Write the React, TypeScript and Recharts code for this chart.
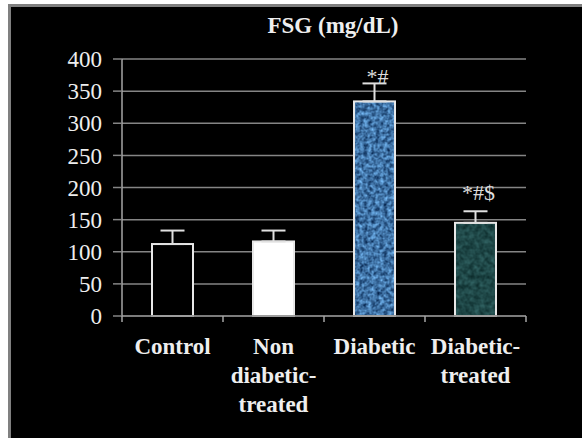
import React from "react";
import { BarChart, Bar, XAxis, YAxis, CartesianGrid, ErrorBar, LabelList } from "recharts";

const categories = ["Control", "Non diabetic-treated", "Diabetic", "Diabetic-treated"];
const categoryLines = [["Control"], ["Non", "diabetic-", "treated"], ["Diabetic"], ["Diabetic-", "treated"]];
const meanValues = [112, 116, 334, 145];
const errorValues = [21, 17, 28, 18];
const significance = ["", "", "*#", "*#$"];
const significanceLevel = [0, 0, 361, 181];
const yTicks = [0, 50, 100, 150, 200, 250, 300, 350, 400];
const title = "FSG (mg/dL)";

const W = 582;
const H = 438;
const margin = { top: 59, right: 56, left: 62, bottom: 12 };
const Y_W = 60;
const plotW = W - margin.left - Y_W - margin.right;
const half = plotW / categories.length / 2;

const data = categories.map((name, i) => ({
  name,
  idx: i,
  value: meanValues[i],
  err: [0, errorValues[i]],
  sig: significance[i],
  sigLevel: significanceLevel[i],
}));

const FONT = "Liberation Serif, Times New Roman, Tinos, DejaVu Serif, serif";
const TXT = "#eeeeee";
const GRID = "#858585";

const BarShape = (props: any) => {
  const { x, y, width, height, payload } = props;
  const idx = payload.idx;
  let fill: any = "#000000";
  let filter: string | undefined;
  if (idx === 1) fill = "#ffffff";
  if (idx === 2) filter = "url(#texBlue)";
  if (idx === 3) filter = "url(#texTeal)";
  return (
    <g>
      <rect x={x} y={y} width={width} height={height} fill={fill} filter={filter} />
      <rect x={x} y={y} width={width} height={height} fill="none" stroke="#e8e8e8" strokeWidth={2} />
    </g>
  );
};

const XTick = (props: any) => {
  const { x, y, index } = props;
  const lines = categoryLines[index] || [];
  const last = index === categories.length - 1;
  return (
    <g>
      <line x1={x - half} x2={x - half} y1={y} y2={y + 6} stroke="#a6a6a6" strokeWidth={1.5} />
      {last && <line x1={x + half} x2={x + half} y1={y} y2={y + 6} stroke="#a6a6a6" strokeWidth={1.5} />}
      <text x={x} y={y + 38} textAnchor="middle" style={{ fontFamily: FONT, fontWeight: "bold", fontSize: 23 }} fill={TXT}>
        {lines.map((l, i) => (
          <tspan key={i} x={x} dy={i === 0 ? 0 : 29}>
            {l}
          </tspan>
        ))}
      </text>
    </g>
  );
};

const SigLabel = (props: any) => {
  const { x, y, width, height, index } = props;
  const d = data[index];
  if (!d || !d.sig) return null;
  const ppu = height / d.value;
  const ty = y + height - d.sigLevel * ppu;
  return (
    <text x={x + width / 2 + 3} y={ty} textAnchor="middle" style={{ fontFamily: FONT, fontSize: 22 }} fill="#dddddd">
      {d.sig}
    </text>
  );
};

export default function App() {
  return (
    <div style={{ position: "fixed", left: 0, top: 0, width: W, height: H, background: "#ffffff", overflow: "hidden", fontFamily: FONT }}>
      <div
        style={{
          position: "absolute",
          left: 8,
          top: 4,
          right: 0,
          bottom: 0,
          background: "#000000",
          borderLeft: "3px solid #808080",
          borderTop: "3px solid #808080",
        }}
      />
      <svg width={0} height={0} style={{ position: "absolute" }}>
        <defs>
          <filter id="texBlue" x="0" y="0" width="1" height="1" colorInterpolationFilters="sRGB">
            <feTurbulence type="fractalNoise" baseFrequency="0.25" numOctaves={2} seed={4} />
            <feColorMatrix
              type="matrix"
              values="0.6 0 0 0 -0.05  0.8 0 0 0 0.05  0.9 0 0 0 0.2  0 0 0 0 1"
            />
          </filter>
          <filter id="texTeal" x="0" y="0" width="1" height="1" colorInterpolationFilters="sRGB">
            <feTurbulence type="fractalNoise" baseFrequency="0.2" numOctaves={2} seed={7} />
            <feColorMatrix
              type="matrix"
              values="0.2 0 0 0 0.02  0.3 0 0 0 0.13  0.3 0 0 0 0.13  0 0 0 0 1"
            />
          </filter>
        </defs>
      </svg>
      <div style={{ position: "absolute", left: 0, top: 0 }}>
        <BarChart width={W} height={H} data={data} margin={margin}>
          <CartesianGrid vertical={false} stroke={GRID} strokeWidth={1.5} />
          <XAxis
            dataKey="name"
            height={110}
            tickSize={0}
            tickMargin={0}
            tickLine={false}
            axisLine={{ stroke: GRID, strokeWidth: 1.5 }}
            tick={<XTick />}
            interval={0}
          />
          <YAxis
            width={Y_W}
            domain={[0, 400]}
            ticks={yTicks}
            interval={0}
            tickSize={9}
            tickMargin={11}
            axisLine={{ stroke: "#a6a6a6", strokeWidth: 1.5 }}
            tickLine={{ stroke: GRID, strokeWidth: 1.5 }}
            tick={{ fill: TXT, fontSize: 23, fontFamily: FONT, style: { fontFamily: FONT } }}
          />
          <Bar dataKey="value" barSize={41} shape={<BarShape />} isAnimationActive={false}>
            <ErrorBar dataKey="err" direction="y" width={12} stroke="#e0e0e0" strokeWidth={2} />
            <LabelList dataKey="sig" content={<SigLabel />} />
          </Bar>
        </BarChart>
      </div>
      <svg width={W} height={H} style={{ position: "absolute", left: 0, top: 0, pointerEvents: "none" }}>
        <text x={333} y={33} textAnchor="middle" style={{ fontFamily: FONT, fontWeight: "bold", fontSize: 23 }} fill={TXT}>
          {title}
        </text>
      </svg>
    </div>
  );
}
